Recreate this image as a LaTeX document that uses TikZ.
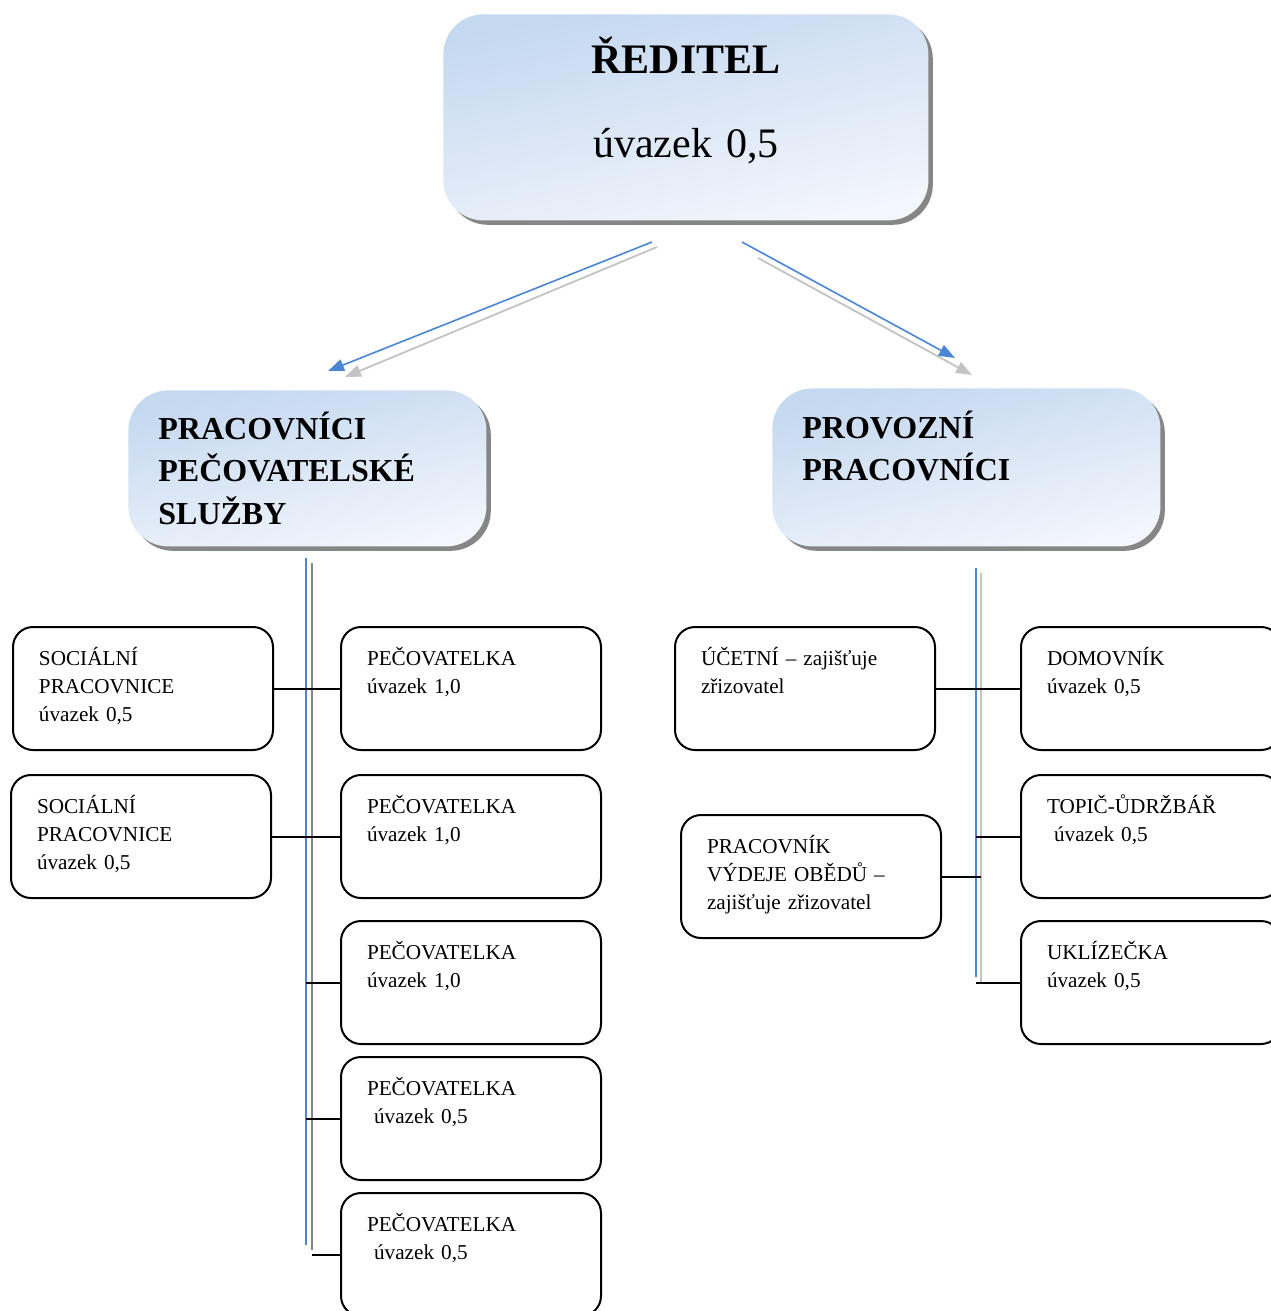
\documentclass[tikz,border=0pt]{standalone}
\usepackage{fontspec}
\setmainfont{Liberation Serif}
\usetikzlibrary{arrows.meta,shadows}
\definecolor{boxblue}{HTML}{C4D8F0}
\definecolor{boxwhite}{HTML}{F3F6FC}
\definecolor{lineblue}{HTML}{4A86D4}
\definecolor{lightgray}{HTML}{C3C3C3}
\definecolor{darkgray}{HTML}{868686}

\begin{document}
\begin{tikzpicture}[x=0.5pt,y=-0.5pt,>={Triangle[length=8pt,width=6pt]},
	headbox/.style={anchor=north west,rounded corners=20pt,top color=boxblue,bottom color=boxwhite,shading angle=12,
		drop shadow={shadow xshift=2.2pt,shadow yshift=-2.2pt,fill=darkgray,opacity=1},inner ysep=0pt,align=left},
	jobbox/.style={anchor=north west,draw,line width=1pt,rounded corners=10pt,inner xsep=13pt,inner ysep=0pt,
		text width=104pt,text height=19pt,text depth=42.5pt,align=left,font=\fontsize{10.6}{14}\selectfont},
	bluelink/.style={draw=lineblue,line width=0.8pt},
	graylink/.style={draw=lightgray,line width=0.9pt},
	conn/.style={draw=black,line width=1pt}]
	\useasboundingbox (0,0) rectangle (1270,1311);
	\node [headbox,inner xsep=0pt,text width=242.5pt,text height=29.5pt,text depth=73.5pt,align=center,
		font=\fontsize{21}{42}\selectfont] (reditel) at (443,14) {\textbf{ŘEDITEL}\\úvazek 0,5};
	\node [headbox,inner xsep=15pt,text width=149pt,text height=24.5pt,text depth=53.5pt,
		font=\fontsize{16}{21.25}\selectfont\bfseries] (pecsluz) at (128,390) {PRACOVNÍCI\\PEČOVATELSKÉ\\SLUŽBY};
	\node [headbox,inner xsep=15pt,text width=164pt,text height=25pt,text depth=54pt,
		font=\fontsize{16}{21.25}\selectfont\bfseries] (provoz) at (772,388) {PROVOZNÍ\\PRACOVNÍCI};

	\coordinate (lstart) at (652,242); \coordinate (lend) at (328,371);
	\coordinate (lgstart) at (657,247); \coordinate (lgend) at (345,377);
	\coordinate (rstart) at (742,242); \coordinate (rend) at (955,358);
	\coordinate (rgstart) at (758,258); \coordinate (rgend) at (972,375);
	\draw [graylink,->,lightgray] (lgstart) -- (lgend);
	\draw [bluelink,->,lineblue] (lstart) -- (lend);
	\draw [graylink,->,lightgray] (rgstart) -- (rgend);
	\draw [bluelink,->,lineblue] (rstart) -- (rend);

	\node [jobbox] (soc1) at (12,626) {SOCIÁLNÍ\\PRACOVNICE\\úvazek 0,5};
	\node [jobbox] (soc2) at (10,774) {SOCIÁLNÍ\\PRACOVNICE\\úvazek 0,5};
	\node [jobbox] (pec1) at (340,626) {PEČOVATELKA\\úvazek 1,0};
	\node [jobbox] (pec2) at (340,774) {PEČOVATELKA\\úvazek 1,0};
	\node [jobbox] (pec3) at (340,920) {PEČOVATELKA\\úvazek 1,0};
	\node [jobbox] (pec4) at (340,1056) {PEČOVATELKA\\\ úvazek 0,5};
	\node [jobbox] (pec5) at (340,1192) {PEČOVATELKA\\\ úvazek 0,5};
	\node [jobbox] (ucet) at (674,626) {ÚČETNÍ – zajišťuje\\zřizovatel};
	\node [jobbox] (vydej) at (680,814) {PRACOVNÍK\\VÝDEJE OBĚDŮ –\\zajišťuje zřizovatel};
	\node [jobbox] (domov) at (1020,626) {DOMOVNÍK\\úvazek 0,5};
	\node [jobbox] (topic) at (1020,774) {TOPIČ-ŮDRŽBÁŘ\\\ úvazek 0,5};
	\node [jobbox] (uklid) at (1020,920) {UKLÍZEČKA\\úvazek 0,5};

	\coordinate (ltop) at (306,558); \coordinate (lbot) at (306,1245);
	\coordinate (lgtop) at (312,563); \coordinate (lgbot) at (312,1250);
	\coordinate (rtop) at (976,568); \coordinate (rbot) at (976,977);
	\coordinate (rgtop) at (981,573); \coordinate (rgbot) at (981,983);
	\draw [line width=0.9pt,darkgray] (lgtop) -- (lgbot);
	\draw [bluelink] (ltop) -- (lbot);
	\draw [graylink] (rgtop) -- (rgbot);
	\draw [bluelink] (rtop) -- (rbot);

	\draw [conn] (soc1.east) -- (pec1.west);
	\draw [conn] (soc2.east) -- (pec2.west);
	\draw [conn] (ltop |- pec3.west) -- (pec3.west);
	\draw [conn] (ltop |- pec4.west) -- (pec4.west);
	\draw [conn] (lgtop |- pec5.west) -- (pec5.west);
	\draw [conn] (ucet.east) -- (domov.west);
	\draw [conn] (vydej.east) -- (rgtop |- vydej.east);
	\draw [conn] (rtop |- topic.west) -- (topic.west);
	\draw [conn] (rtop |- uklid.west) -- (uklid.west);
\end{tikzpicture}
\end{document}
